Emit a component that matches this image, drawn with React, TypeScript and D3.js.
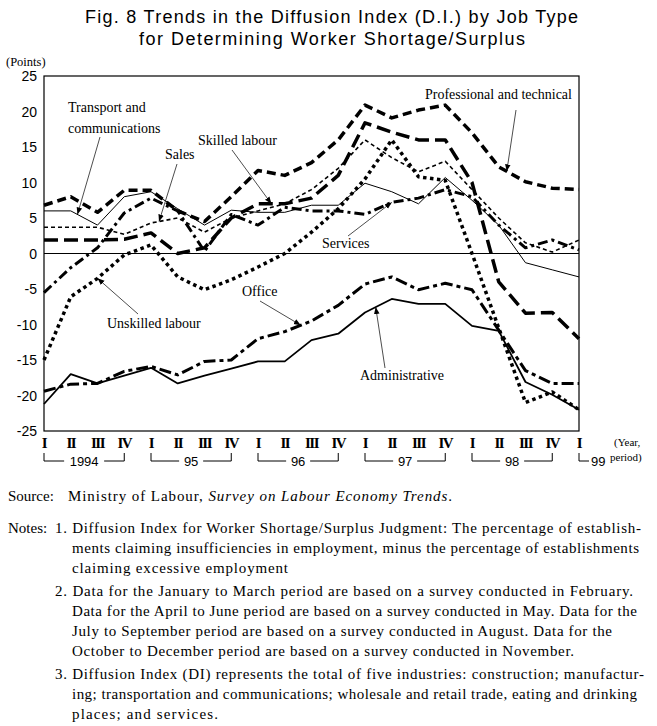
import { useEffect, useRef } from 'react';
import * as d3 from 'd3';

// quarters 1994 I .. 1999 I
const quarters = ['I', 'II', 'III', 'IV', 'I', 'II', 'III', 'IV', 'I', 'II', 'III', 'IV', 'I', 'II', 'III', 'IV', 'I', 'II', 'III', 'IV', 'I'];
const years = [
  { label: '1994', from: 0, to: 3 },
  { label: '95', from: 4, to: 7 },
  { label: '96', from: 8, to: 11 },
  { label: '97', from: 12, to: 15 },
  { label: '98', from: 16, to: 19 },
];
const yTicks = [25, 20, 15, 10, 5, 0, -5, -10, -15, -20, -25];

const professional = [6.8, 8, 5.8, 8.9, 8.9, 6, 4.5, 8, 11.7, 11, 12.8, 16, 20.9, 19.1, 20.2, 20.9, 17, 12.2, 10.1, 9.2, 9];
const transport = [6, 6, 4, 8, 8.7, 6.3, 4, 6.1, 5.8, 5.8, 6.8, 6.8, 9.9, 8.7, 7, 10.7, 7.5, 4, -1.3, -2.3, -3.3];
const sales = [3.7, 3.7, 3.7, 2.7, 4.3, 5, 3, 5, 6, 7, 9, 12, 16, 13.5, 11.5, 13, 9, 5, 1.5, 0.2, 1.9];
const skilled = [1.9, 1.9, 1.9, 2, 2.9, 0, 0.8, 5, 7, 7, 7.8, 11, 18.4, 17.1, 16, 16, 10, -4, -8.4, -8.3, -12];
const services = [-5.5, -2, 0.8, 5.7, 7.8, 6, 0.3, 5.5, 4, 6.5, 6, 6, 5.5, 7.2, 7.8, 9, 8, 4, 0.8, 1.9, 0.5];
const unskilled = [-15, -6.1, -3.5, -0.2, 1.2, -3.3, -5.1, -3.7, -1.9, 0, 3, 6.3, 10.5, 16, 10.8, 10.3, 0, -10.5, -21, -19.5, -22];
const office = [-19.4, -18.4, -18.3, -16.6, -15.9, -17.1, -15.2, -15, -12, -11, -9.5, -7.3, -4.3, -3.3, -5.1, -4.2, -5.1, -10.8, -16.5, -18.3, -18.3];
const administrative = [-21.2, -17, -18.3, -17.2, -16.1, -18.3, -17.2, -16.2, -15.2, -15.2, -12.2, -11.3, -8.3, -6.4, -7.1, -7.1, -10.2, -10.9, -18.1, -19.9, -22];

const series = [
  { name: 'Administrative', values: administrative, width: 1.8, dash: null },
  { name: 'Transport and communications', values: transport, width: 1, dash: null },
  { name: 'Office', values: office, width: 3, dash: '12,4,4,4' },
  { name: 'Sales', values: sales, width: 1.6, dash: '4,3' },
  { name: 'Unskilled labour', values: unskilled, width: 3.5, dash: '3.5,3.5' },
  { name: 'Services', values: services, width: 3, dash: '10,4,3,4' },
  { name: 'Skilled labour', values: skilled, width: 3.5, dash: '14,6' },
  { name: 'Professional and technical', values: professional, width: 3.5, dash: '9,5' },
];

// label text, text anchor position, and where the pointer lands (series, fractional index)
const labels = [
  { lines: ['Transport and', 'communications'], x: 68, y: 112, from: [100, 137], target: 'Transport and communications', at: 1.25 },
  { lines: ['Sales'], x: 165, y: 159, from: [177, 164], target: 'Sales', at: 4.3 },
  { lines: ['Skilled labour'], x: 198, y: 145, from: [232, 150], target: 'Skilled labour', at: 8.5 },
  { lines: ['Professional and technical'], x: 425, y: 99, from: [516, 110], target: 'Professional and technical', at: 17.3 },
  { lines: ['Services'], x: 322, y: 248, from: [348, 236], target: 'Services', at: 13 },
  { lines: ['Unskilled labour'], x: 107, y: 328, from: [138, 314], target: 'Unskilled labour', at: 2 },
  { lines: ['Office'], x: 242, y: 296, from: [260, 301], target: 'Office', at: 9.6 },
  { lines: ['Administrative'], x: 360, y: 380, from: [385, 368], target: 'Administrative', at: 12.4 },
];

const notes = [
  { x: 55, y: 533, w: 586, t: '1. Diffusion Index for Worker Shortage/Surplus Judgment: The percentage of establish-' },
  { x: 72, y: 553, w: 567, t: 'ments claiming insufficiencies in employment, minus the percentage of establishments' },
  { x: 72, y: 573, w: 216, t: 'claiming excessive employment' },
  { x: 55, y: 596, w: 578, t: '2. Data for the January to March period are based on a survey conducted in February.' },
  { x: 72, y: 616, w: 565, t: 'Data for the April to June period are based on a survey conducted in May. Data for the' },
  { x: 72, y: 636, w: 540, t: 'July to September period are based on a survey conducted in August. Data for the' },
  { x: 72, y: 656, w: 502, t: 'October to December period are based on a survey conducted in November.' },
  { x: 55, y: 679, w: 589, t: '3. Diffusion Index (DI) represents the total of five industries: construction; manufactur-' },
  { x: 72, y: 699, w: 565, t: 'ing; transportation and communications; wholesale and retail trade, eating and drinking' },
  { x: 72, y: 719, w: 146, t: 'places; and services.' },
];

export default function App() {
  const svgRef = useRef<SVGSVGElement>(null);

  useEffect(() => {
    if (!svgRef.current) return;
    const svg = d3.select(svgRef.current);
    svg.selectAll('*').remove();

    const serif = '"Liberation Serif", "Times New Roman", serif';
    const sans = '"Liberation Sans", Arial, sans-serif';

    const x = d3.scaleLinear().domain([0, quarters.length - 1]).range([44, 579]);
    const y = d3.scaleLinear().domain([-25, 25]).range([431, 76]);

    svg.append('defs').append('marker')
      .attr('id', 'arr')
      .attr('viewBox', '0 0 10 10')
      .attr('refX', 10).attr('refY', 5)
      .attr('markerWidth', 7).attr('markerHeight', 7)
      .attr('markerUnits', 'userSpaceOnUse')
      .attr('orient', 'auto')
      .append('path').attr('d', 'M0,1 L10,5 L0,9 z').attr('fill', '#000');

    // title
    const title = svg.append('g').attr('font-family', sans).attr('font-size', 18);
    title.append('text').attr('x', 85).attr('y', 23)
      .attr('textLength', 493).attr('lengthAdjust', 'spacing')
      .text('Fig. 8  Trends in the Diffusion Index (D.I.) by Job Type');
    title.append('text').attr('x', 139).attr('y', 45)
      .attr('textLength', 386).attr('lengthAdjust', 'spacing')
      .text('for Determining Worker Shortage/Surplus');

    svg.append('text').attr('x', 6).attr('y', 66).attr('font-family', serif).attr('font-size', 12.5).text('(Points)');

    // y tick labels
    svg.append('g').selectAll('text').data(yTicks).enter().append('text')
      .attr('x', 37).attr('y', d => y(d) + 5)
      .attr('text-anchor', 'end')
      .attr('font-family', sans).attr('font-size', 14)
      .text(d => d);

    // frame and zero line
    svg.append('rect')
      .attr('x', x(0)).attr('y', y(25))
      .attr('width', x(20) - x(0)).attr('height', y(-25) - y(25))
      .attr('fill', 'none').attr('stroke', '#000').attr('stroke-width', 1.2);
    svg.append('line')
      .attr('x1', x(0)).attr('x2', x(20)).attr('y1', y(0)).attr('y2', y(0))
      .attr('stroke', '#000').attr('stroke-width', 1);

    // quarter labels
    svg.append('g').selectAll('text').data(quarters).enter().append('text')
      .attr('x', (d, i) => x(i)).attr('y', 448)
      .attr('text-anchor', 'middle')
      .attr('font-family', serif).attr('font-weight', 'bold').attr('font-size', 15)
      .attr('letter-spacing', -1.5)
      .text(d => d);

    // year brackets
    const yb = svg.append('g').attr('font-family', sans).attr('font-size', 13);
    years.forEach(yr => {
      const x0 = x(yr.from), x1 = x(yr.to), cx = (x0 + x1) / 2;
      const half = yr.label.length * 4 + 4;
      yb.append('path')
        .attr('d', `M${x0},453 V461 H${cx - half} M${cx + half},461 H${x1} V453`)
        .attr('fill', 'none').attr('stroke', '#000').attr('stroke-width', 1);
      yb.append('text').attr('x', cx).attr('y', 466).attr('text-anchor', 'middle').text(yr.label);
    });
    yb.append('path').attr('d', `M${x(20)},453 V461 H${x(20) + 10}`).attr('fill', 'none').attr('stroke', '#000');
    yb.append('text').attr('x', x(20) + 12).attr('y', 466).text('99');
    svg.append('text').attr('x', 614).attr('y', 446).attr('font-family', serif).attr('font-size', 11).text('(Year,');
    svg.append('text').attr('x', 610).attr('y', 461).attr('font-family', serif).attr('font-size', 11).text('period)');

    // series
    const line = d3.line<number>().x((d, i) => x(i)).y(d => y(d));
    svg.append('g').selectAll('path').data(series).enter().append('path')
      .attr('d', d => line(d.values))
      .attr('fill', 'none').attr('stroke', '#000')
      .attr('stroke-width', d => d.width)
      .attr('stroke-dasharray', d => d.dash)
      .attr('stroke-linejoin', 'round');

    // labels with pointers
    const lab = svg.append('g').attr('font-family', serif).attr('font-size', 14);
    labels.forEach(l => {
      const s = series.find(q => q.name === l.target)!;
      const i0 = Math.floor(l.at), f = l.at - i0;
      const v = s.values[i0] + (s.values[Math.min(i0 + 1, 20)] - s.values[i0]) * f;
      lab.append('line')
        .attr('x1', l.from[0]).attr('y1', l.from[1])
        .attr('x2', x(l.at)).attr('y2', y(v))
        .attr('stroke', '#000').attr('stroke-width', 0.7)
        .attr('marker-end', 'url(#arr)');
      l.lines.forEach((t, k) => {
        lab.append('text').attr('x', l.x).attr('y', l.y + k * 21).text(t);
      });
    });

    // source and notes
    svg.append('text').attr('x', 8).attr('y', 501).attr('font-family', serif).attr('font-size', 15).text('Source:');
    const src = svg.append('text').attr('x', 68).attr('y', 501).attr('font-family', serif).attr('font-size', 15)
      .attr('textLength', 384).attr('lengthAdjust', 'spacing');
    src.append('tspan').text('Ministry of Labour, ');
    src.append('tspan').attr('font-style', 'italic').text('Survey on Labour Economy Trends');
    src.append('tspan').text('.');

    svg.append('text').attr('x', 8).attr('y', 533).attr('font-family', serif).attr('font-size', 15).text('Notes:');
    svg.append('g').selectAll('text').data(notes).enter().append('text')
      .attr('x', d => d.x).attr('y', d => d.y)
      .attr('font-family', serif).attr('font-size', 15)
      .attr('textLength', d => d.w).attr('lengthAdjust', 'spacing')
      .text(d => d.t);
  }, []);

  return (
    <svg ref={svgRef} width={657} height={726}
      style={{ position: 'absolute', left: 0, top: 0, background: '#fff' }} />
  );
}
